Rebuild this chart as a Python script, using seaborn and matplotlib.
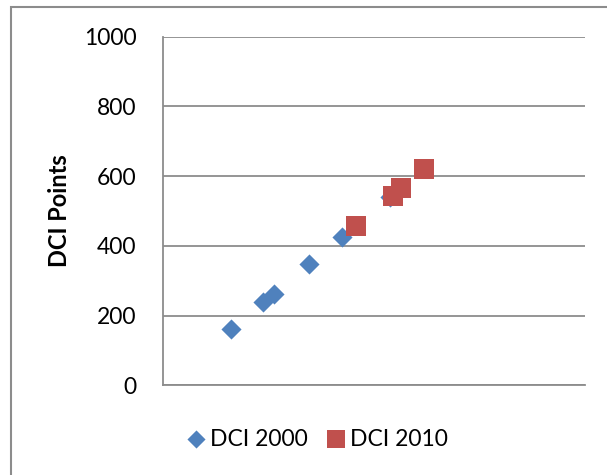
import matplotlib.pyplot as plt
from matplotlib.patches import Rectangle
import seaborn as sns
import pandas as pd

# values (x has no labels, so it is on a 0-100 scale)
x_2000 = [16.1, 23.8, 26.3, 34.7, 42.5, 53.9]
y_2000 = [161, 239, 261, 347, 424, 541]
x_2010 = [45.7, 54.4, 56.4, 61.8]
y_2010 = [457, 544, 565, 620]
series = ["DCI 2000", "DCI 2010"]
y_ticks = [0, 200, 400, 600, 800, 1000]

df = pd.concat(
    [
        pd.DataFrame({"x": x_2000, "y": y_2000, "series": series[0]}),
        pd.DataFrame({"x": x_2010, "y": y_2010, "series": series[1]}),
    ],
    ignore_index=True,
)

sns.set_style("white")
plt.rcParams["font.family"] = ["Lato", "DejaVu Sans"]
plt.rcParams["text.color"] = "black"
plt.rcParams["axes.labelcolor"] = "black"
plt.rcParams["ytick.color"] = "black"

fig = plt.figure(figsize=(6.07, 4.75), dpi=100)
ax = fig.add_axes([163 / 607, 1 - 385.3 / 475, 422 / 607, 348.6 / 475])

palette = {"DCI 2000": "#4F81BD", "DCI 2010": "#C0504D"}
markers = {"DCI 2000": "D", "DCI 2010": "s"}
sizes = {"DCI 2000": 105, "DCI 2010": 200}
for name in series:
    sns.scatterplot(
        data=df[df["series"] == name],
        x="x", y="y",
        color=palette[name], marker=markers[name], s=sizes[name],
        linewidth=0, label=name, ax=ax, zorder=3,
    )

ax.set_xlim(0, 100)
ax.set_ylim(0, 1000)
ax.set_yticks(y_ticks)
ax.set_xticks([])
ax.set_xlabel("")
ax.set_ylabel("DCI Points", fontsize=17, fontweight="bold", labelpad=9)
ax.tick_params(axis="y", labelsize=16.5, length=0, pad=19)
ax.grid(axis="y", color="#8c8c8c", linewidth=1.3)
for side in ["top", "right"]:
    ax.spines[side].set_visible(False)
for side in ["left", "bottom"]:
    ax.spines[side].set_color("#8c8c8c")
    ax.spines[side].set_linewidth(1.3)

ax.legend(
    loc="center", bbox_to_anchor=(318 / 607, 1 - 439 / 475),
    bbox_transform=fig.transFigure, ncol=2, frameon=False,
    fontsize=16.5, handlelength=0.7, handletextpad=0.25,
    columnspacing=0.9, markerscale=0.9,
)

# outer chart border, running off the right and bottom edges
fig.patches.append(Rectangle((11 / 607, -0.1), 1.0, 1 - 6.7 / 475 + 0.1,
                             transform=fig.transFigure, fill=False,
                             edgecolor="#8c8c8c", linewidth=1.5))

fig.savefig("out.png", dpi=100)
